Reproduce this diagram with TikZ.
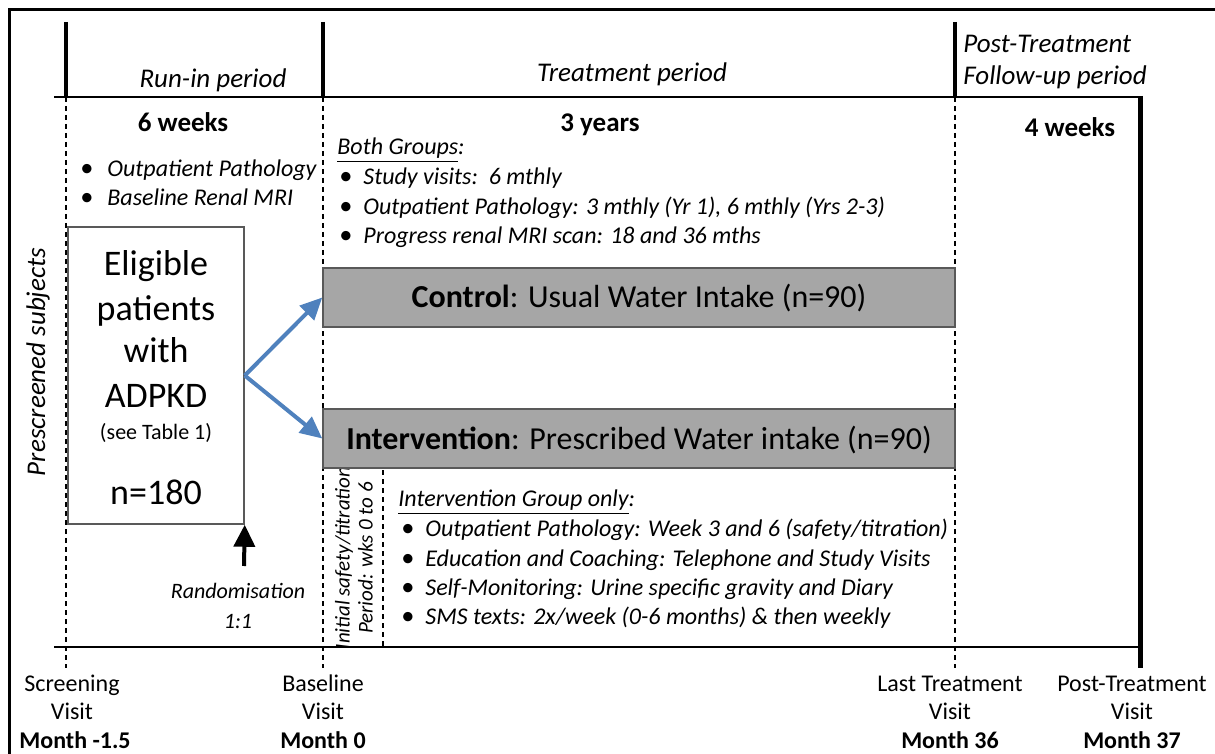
\documentclass[tikz,border=0pt]{standalone}
\usepackage{fontspec}
\setmainfont{Carlito}
\usetikzlibrary{arrows.meta}
\definecolor{boxgray}{HTML}{A6A6A6}
\definecolor{boxline}{HTML}{595959}
\definecolor{arrowblue}{HTML}{4F81BD}
\newcommand{\bul}{\scalebox{1.1}{•}}
\begin{document}
\begin{tikzpicture}[x=0.5pt,y=-0.5pt,
  frame/.style={line width=1.5pt},
  thinline/.style={line width=1pt},
  tick/.style={line width=2pt},
  dashline/.style={line width=0.6pt, dash pattern=on 2.5pt off 2pt},
  ttl/.style={font=\fontsize{13.5}{16}\selectfont\itshape, inner sep=0pt, yshift=-2.5pt},
  hd/.style={font=\fontsize{13.5}{16}\selectfont\bfseries, inner sep=0pt, yshift=-2.5pt},
  bl/.style={font=\fontsize{12}{14}\selectfont, inner sep=0pt, anchor=mid west, yshift=-2pt},
  lbl/.style={font=\fontsize{12}{14}\selectfont, inner sep=0pt, anchor=mid, yshift=-2pt},
  lblb/.style={font=\fontsize{12}{14}\selectfont\bfseries, inner sep=0pt, anchor=mid, yshift=-2pt},
  el/.style={font=\fontsize{18}{20}\selectfont, inner sep=0pt, anchor=mid, yshift=-4pt},
  sm/.style={font=\fontsize{11}{13}\selectfont, inner sep=0pt, anchor=mid, yshift=-2pt},
  grp/.style={draw=boxline, fill=boxgray, line width=0.75pt, inner sep=0pt},
  grpt/.style={font=\fontsize{16}{19}\selectfont, inner sep=0pt, anchor=mid, yshift=-1.5pt},
  bluearr/.style={draw=arrowblue, line width=2pt, -{Triangle[length=11pt,width=10pt]}},
]
\useasboundingbox (0,0) rectangle (1215,754);
% outer frame
\draw[frame] (9,754) -- (9,10) -- (1215,10);
% horizontal lines
\draw[thinline] (54,97) -- (1140,97);
\draw[thinline] (54,647) -- (1140,647);
% thick ticks
\draw[tick] (66,22) -- (66,97);
\draw[tick] (323,22) -- (323,97);
\draw[tick] (955,22) -- (955,97);
\draw[line width=2.5pt] (1140,96) -- (1140,668);
% dashed verticals
\draw[dashline] (66,97) -- (66,668);
\draw[dashline] (323,97) -- (323,668);
\draw[dashline] (955,97) -- (955,668);
\draw[dashline] (383,470) -- (383,647);

% period titles
\node[ttl, anchor=mid] (runin) at (213,78) {Run-in period};
\node[ttl, anchor=mid] (treat) at (632,72) {Treatment period};
\node[ttl, anchor=mid west] (post1) at (963,43) {Post-Treatment};
\node[ttl, anchor=mid west] (post2) at (963,75) {Follow-up period};
\node[hd, anchor=mid] (wk6) at (183,122) {6 weeks};
\node[hd, anchor=mid] (yr3) at (600,122) {3 years};
\node[hd, anchor=mid] (wk4) at (1070,127) {4 weeks};

% run-in bullets
\node[bl] (r1) at (80,168) {\makebox[13.5pt][l]{\bul}\textit{Outpatient Pathology}};
\node[bl] (r2) at (80,197) {\makebox[13.5pt][l]{\bul}\textit{Baseline Renal MRI}};

% both groups
\node[bl] (both) at (337,146) {\textit{\underline{Both Groups}:}};
\node[bl] (b1) at (339,176) {\makebox[12pt][l]{\bul}\textit{Study visits:\ \ 6 mthly}};
\node[bl] (b2) at (339,206) {\makebox[12pt][l]{\bul}\textit{Outpatient Pathology: 3 mthly (Yr 1), 6 mthly (Yrs 2-3)}};
\node[bl] (b3) at (339,235) {\makebox[12pt][l]{\bul}\textit{Progress renal MRI scan: 18 and 36 mths}};

% eligible box
\node[draw=boxline, line width=0.75pt, minimum width=88pt, minimum height=148.5pt, inner sep=0pt] (elig) at (156,375.5) {};
\node[el] (e1) at (156,263) {Eligible};
\node[el] (e2) at (156,308) {patients};
\node[el] (e3) at (156,350) {with};
\node[el] (e4) at (156,395) {ADPKD};
\node[sm] (e5) at (156,431) {(see Table 1)};
\node[el] (e6) at (156,492) {n=180};

% rotated labels
\node[font=\fontsize{13.5}{16}\selectfont\itshape, inner sep=0pt, rotate=90] (presc) at (38,362) {Prescreened subjects};
\node[font=\fontsize{10.5}{11.5}\selectfont\itshape, inner sep=0pt, rotate=90, align=center] (init) at (354,558) {Initial safety/titration\\Period: wks 0 to 6};

% group boxes
\node[grp, minimum width=316pt, minimum height=29.5pt] (ctrl) at (639,297.5) {};
\node[grpt] (ctrlt) at (639,300) {\textbf{Control}: Usual Water Intake (n=90)};
\node[grp, minimum width=316pt, minimum height=29.5pt] (interv) at (639,438.5) {};
\node[grpt] (intervt) at (639,442) {\textbf{Intervention}: Prescribed Water intake (n=90)};

% blue arrows
\draw[bluearr] (elig.east) -- (ctrl.west);
\draw[bluearr] (elig.east) -- (interv.west);

% randomisation arrow
\coordinate (rnd) at (244,566);
\draw[line width=2pt, -{Triangle[length=11pt,width=10.5pt]}] (rnd) -- (elig.south east);
\node[sm, font=\fontsize{11}{13}\selectfont\itshape] (rand1) at (238,590) {Randomisation};
\node[sm, font=\fontsize{11}{13}\selectfont\itshape] (rand2) at (238,620) {1:1};

% intervention group only
\node[bl] (ig) at (398,498) {\textit{\underline{Intervention Group only}:}};
\node[bl] (i1) at (401,528) {\makebox[12pt][l]{\bul}\textit{Outpatient Pathology: Week 3 and 6 (safety/titration)}};
\node[bl] (i2) at (401,558) {\makebox[12pt][l]{\bul}\textit{Education and Coaching: Telephone and Study Visits}};
\node[bl] (i3) at (401,587) {\makebox[12pt][l]{\bul}\textit{Self-Monitoring: Urine specific gravity and Diary}};
\node[bl] (i4) at (401,616) {\makebox[12pt][l]{\bul}\textit{SMS texts: 2x/week (0-6 months) \& then weekly}};

% bottom labels
\node[lbl] (s1) at (72,683) {Screening};
\node[lbl] (s2) at (72,711) {Visit};
\node[lblb] (s3) at (75,740) {Month -1.5};
\node[lbl] (bl1) at (323,683) {Baseline};
\node[lbl] (bl2) at (323,711) {Visit};
\node[lblb] (bl3) at (323,740) {Month 0};
\node[lbl] (lt1) at (950,683) {Last Treatment};
\node[lbl] (lt2) at (950,711) {Visit};
\node[lblb] (lt3) at (950,740) {Month 36};
\node[lbl] (pt1) at (1132,683) {Post-Treatment};
\node[lbl] (pt2) at (1132,711) {Visit};
\node[lblb] (pt3) at (1132,740) {Month 37};
\end{tikzpicture}
\end{document}
